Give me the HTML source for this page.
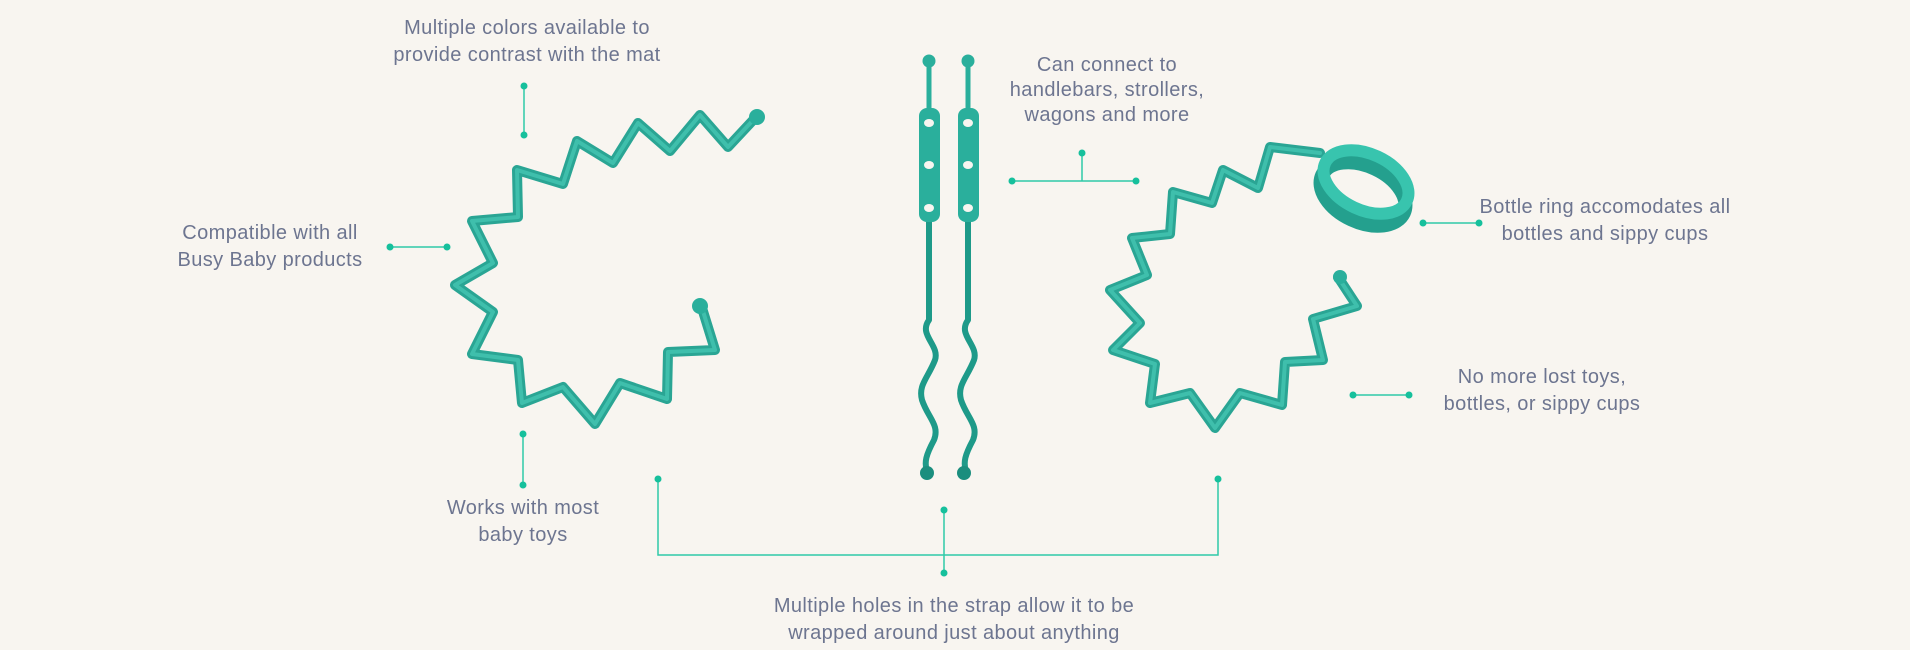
<!DOCTYPE html>
<html><head><meta charset="utf-8"><style>
html,body{margin:0;padding:0;background:#f8f5f0;}
body{width:1910px;height:650px;position:relative;overflow:hidden;font-family:"Liberation Sans",sans-serif;}
.t{position:absolute;color:#6d7590;font-size:20px;letter-spacing:0.4px;line-height:27px;text-align:center;white-space:nowrap;transform:translateX(-50%);}
svg{position:absolute;left:0;top:0;}
</style></head><body>
<svg width="1910" height="650" viewBox="0 0 1910 650">
<g fill="none" stroke-linejoin="round" stroke-linecap="round">
<polyline stroke="#2aa594" stroke-width="10" points="756,117 728,147 700,115 670,151 638,123 613,163 577,141 563,184 517,170 518,217 472,221 493,263 455,285 493,312 472,354 518,360 522,403 563,387 595,424 620,383 667,399 668,352 715,350 702,308"/>
<polyline stroke="#3fbfac" stroke-width="4" points="756,117 728,147 700,115 670,151 638,123 613,163 577,141 563,184 517,170 518,217 472,221 493,263 455,285 493,312 472,354 518,360 522,403 563,387 595,424 620,383 667,399 668,352 715,350 702,308"/>
<polyline stroke="#2aa594" stroke-width="10" points="1320,153 1270,147 1258,188 1223,170 1212,203 1173,192 1170,234 1132,238 1147,275 1110,290 1140,323 1113,350 1155,364 1150,403 1190,393 1215,428 1240,393 1282,405 1285,362 1323,360 1313,319 1357,306 1338,277"/>
<polyline stroke="#3fbfac" stroke-width="4" points="1320,153 1270,147 1258,188 1223,170 1212,203 1173,192 1170,234 1132,238 1147,275 1110,290 1140,323 1113,350 1155,364 1150,403 1190,393 1215,428 1240,393 1282,405 1285,362 1323,360 1313,319 1357,306 1338,277"/>
<ellipse cx="1363" cy="194" rx="45" ry="28" transform="rotate(25 1363 194)" stroke="#24a08e" stroke-width="14"/>
<ellipse cx="1366" cy="182" rx="45" ry="28" transform="rotate(25 1366 182)" stroke="#38c4ae" stroke-width="12"/>
<path d="M929,215 L929,320 C918,335 940,345 935,360 C928,378 918,385 922,400 C928,418 940,425 934,440 C926,455 924,462 927,472" stroke="#1e9a89" stroke-width="6"/>
<path d="M968,215 L968,320 C957,335 979,345 974,360 C967,378 957,385 961,400 C967,418 979,425 973,440 C965,455 963,462 966,472" stroke="#1e9a89" stroke-width="6"/>
<line x1="929" y1="62" x2="929" y2="115" stroke="#2aaf9c" stroke-width="5"/>
<line x1="968" y1="62" x2="968" y2="115" stroke="#2aaf9c" stroke-width="5"/>
</g>
<g fill="#2aaf9c">
<circle cx="757" cy="117" r="8"/><circle cx="700" cy="306" r="8"/><circle cx="1340" cy="277" r="7"/>
<circle cx="929" cy="61" r="6.5"/><circle cx="968" cy="61" r="6.5"/>
<rect x="919" y="108" width="21" height="114" rx="8"/><rect x="958" y="108" width="21" height="114" rx="8"/>
<circle cx="927" cy="473" r="7" fill="#1b8e7e"/><circle cx="964" cy="473" r="7" fill="#1b8e7e"/>
</g>
<g fill="#f8f5f0">
<ellipse cx="929" cy="123" rx="5" ry="4"/><ellipse cx="929" cy="165" rx="5" ry="4"/><ellipse cx="929" cy="208" rx="5" ry="4"/>
<ellipse cx="968" cy="123" rx="5" ry="4"/><ellipse cx="968" cy="165" rx="5" ry="4"/><ellipse cx="968" cy="208" rx="5" ry="4"/>
</g>
<g stroke="#2fcaa8" stroke-width="1.5" fill="none">
<line x1="524" y1="86" x2="524" y2="135"/>
<line x1="390" y1="247" x2="447" y2="247"/>
<line x1="523" y1="434" x2="523" y2="485"/>
<polyline points="658,479 658,555 1218,555 1218,479"/>
<line x1="944" y1="510" x2="944" y2="573"/>
<line x1="1012" y1="181" x2="1136" y2="181"/>
<line x1="1082" y1="153" x2="1082" y2="181"/>
<line x1="1423" y1="223" x2="1479" y2="223"/>
<line x1="1353" y1="395" x2="1409" y2="395"/>
</g>
<g fill="#16c09c">
<circle cx="524" cy="86" r="3.5"/><circle cx="524" cy="135" r="3.5"/>
<circle cx="390" cy="247" r="3.5"/><circle cx="447" cy="247" r="3.5"/>
<circle cx="523" cy="434" r="3.5"/><circle cx="523" cy="485" r="3.5"/>
<circle cx="658" cy="479" r="3.5"/><circle cx="1218" cy="479" r="3.5"/>
<circle cx="944" cy="510" r="3.5"/><circle cx="944" cy="573" r="3.5"/>
<circle cx="1012" cy="181" r="3.5"/><circle cx="1136" cy="181" r="3.5"/><circle cx="1082" cy="153" r="3.5"/>
<circle cx="1423" cy="223" r="3.5"/><circle cx="1479" cy="223" r="3.5"/>
<circle cx="1353" cy="395" r="3.5"/><circle cx="1409" cy="395" r="3.5"/>
</g>
</svg>
<div class="t" style="left:527px;top:15px;">Multiple colors available to<br>provide contrast with the mat</div>
<div class="t" style="left:270px;top:220px;">Compatible with all<br>Busy Baby products</div>
<div class="t" style="left:523px;top:495px;">Works with most<br>baby toys</div>
<div class="t" style="left:954px;top:593px;">Multiple holes in the strap allow it to be<br>wrapped around just about anything</div>
<div class="t" style="left:1107px;top:53px;line-height:25px;">Can connect to<br>handlebars, strollers,<br>wagons and more</div>
<div class="t" style="left:1605px;top:194px;">Bottle ring accomodates all<br>bottles and sippy cups</div>
<div class="t" style="left:1542px;top:364px;">No more lost toys,<br>bottles, or sippy cups</div>
</body></html>
